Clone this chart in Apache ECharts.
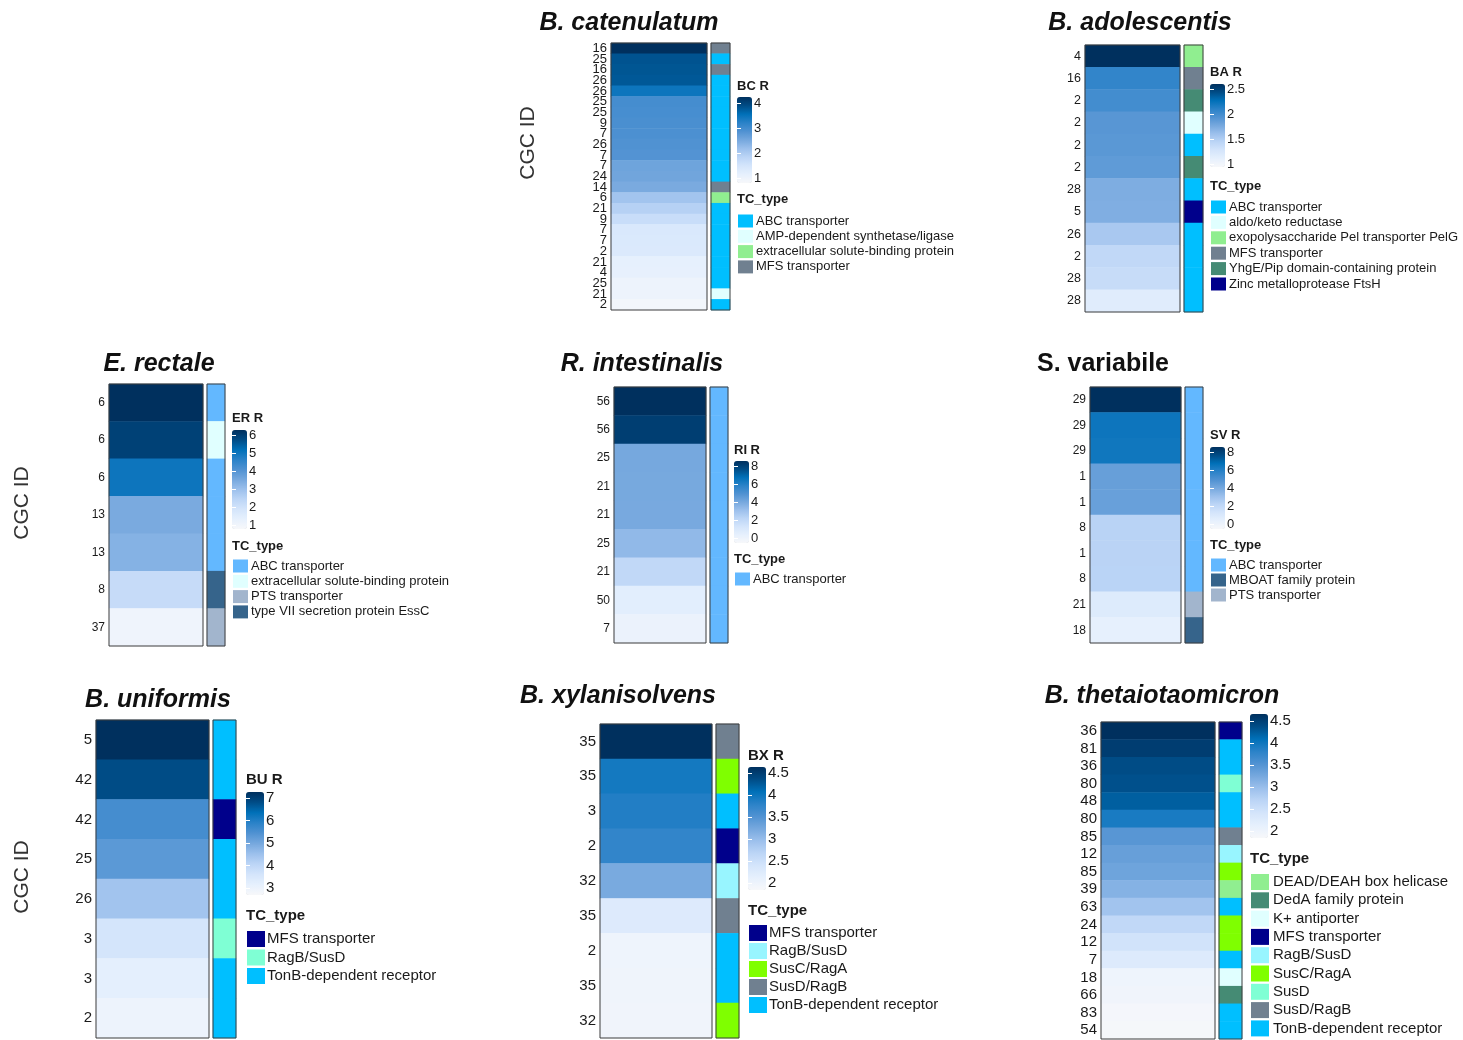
<!DOCTYPE html>
<html><head><meta charset="utf-8">
<script src="https://cdn.jsdelivr.net/npm/echarts@6/dist/echarts.min.js"></script>
<style>html,body{margin:0;padding:0;background:#fff}#c{width:1463px;height:1040px}</style>
</head><body><div id="c"></div>
<script>
// ================= DATA =================
// B. catenulatum
const bcRows = ['16','25','16','26','26','25','25','9','7','26','7','7','24','14','6','21','9','7','7','2','21','4','25','21','2'];
const bcValues = [4.0,3.64,3.62,3.6,3.31,2.89,2.87,2.85,2.83,2.8,2.78,2.56,2.54,2.47,2.14,1.96,1.75,1.51,1.5,1.49,1.3,1.29,1.18,1.17,1.08];
const bcTypes = ['MFS transporter','ABC transporter','MFS transporter','ABC transporter','ABC transporter','ABC transporter','ABC transporter','ABC transporter','ABC transporter','ABC transporter','ABC transporter','ABC transporter','ABC transporter','MFS transporter','extracellular solute-binding protein','ABC transporter','ABC transporter','ABC transporter','ABC transporter','ABC transporter','ABC transporter','ABC transporter','ABC transporter','AMP-dependent synthetase/ligase','ABC transporter'];
const bcLegend = ['ABC transporter','AMP-dependent synthetase/ligase','extracellular solute-binding protein','MFS transporter'];
const bcTicks = [1,2,3,4];

// B. adolescentis
const baRows = ['4','16','2','2','2','2','28','5','26','2','28','28'];
const baValues = [2.5,2.02,1.95,1.87,1.86,1.84,1.72,1.71,1.54,1.42,1.38,1.2];
const baTypes = ['exopolysaccharide Pel transporter PelG','MFS transporter','YhgE/Pip domain-containing protein','aldo/keto reductase','ABC transporter','YhgE/Pip domain-containing protein','ABC transporter','Zinc metalloprotease FtsH','ABC transporter','ABC transporter','ABC transporter','ABC transporter'];
const baLegend = ['ABC transporter','aldo/keto reductase','exopolysaccharide Pel transporter PelG','MFS transporter','YhgE/Pip domain-containing protein','Zinc metalloprotease FtsH'];
const baTicks = [1,1.5,2,2.5];

// E. rectale
const erRows = ['6','6','6','13','13','8','37'];
const erValues = [6.0,5.7,4.85,3.45,3.3,2.3,1.25];
const erTypes = ['ABC transporter','extracellular solute-binding protein','ABC transporter','ABC transporter','ABC transporter','type VII secretion protein EssC','PTS transporter'];
const erLegend = ['ABC transporter','extracellular solute-binding protein','PTS transporter','type VII secretion protein EssC'];
const erTicks = [1,2,3,4,5,6];

// R. intestinalis
const riRows = ['56','56','25','21','21','25','21','50','7'];
const riValues = [8,7.6,4.0,3.98,3.96,3.44,2.24,0.96,0.56];
const riTypes = ['ABC transporter','ABC transporter','ABC transporter','ABC transporter','ABC transporter','ABC transporter','ABC transporter','ABC transporter','ABC transporter'];
const riLegend = ['ABC transporter'];
const riTicks = [0,2,4,6,8];

// S. variabile
const svRows = ['29','29','29','1','1','8','1','8','21','18'];
const svValues = [8,6.16,6.1,4.32,4.3,2.48,2.46,2.44,1.2,0.8];
const svTypes = ['ABC transporter','ABC transporter','ABC transporter','ABC transporter','ABC transporter','ABC transporter','ABC transporter','ABC transporter','PTS transporter','MBOAT family protein'];
const svLegend = ['ABC transporter','MBOAT family protein','PTS transporter'];
const svTicks = [0,2,4,6,8];

// B. uniformis
const buRows = ['5','42','42','25','26','3','3','2'];
const buValues = [7,6.6,5.52,5.28,4.52,3.8,3.44,3.24];
const buTypes = ['TonB-dependent receptor','TonB-dependent receptor','MFS transporter','TonB-dependent receptor','TonB-dependent receptor','RagB/SusD','TonB-dependent receptor','TonB-dependent receptor'];
const buLegend = ['MFS transporter','RagB/SusD','TonB-dependent receptor'];
const buTicks = [3,4,5,6,7];

// B. xylanisolvens
const bxRows = ['35','35','3','2','32','35','2','35','32'];
const bxValues = [4.5,3.88,3.8,3.7,3.23,2.38,2.13,2.12,2.11];
const bxTypes = ['SusD/RagB','SusC/RagA','TonB-dependent receptor','MFS transporter','RagB/SusD','SusD/RagB','TonB-dependent receptor','TonB-dependent receptor','SusC/RagA'];
const bxLegend = ['MFS transporter','RagB/SusD','SusC/RagA','SusD/RagB','TonB-dependent receptor'];
const bxTicks = [2,2.5,3,3.5,4,4.5];

// B. thetaiotaomicron
const btRows = ['36','81','36','80','48','80','85','12','85','39','63','24','12','7','18','66','83','54'];
const btValues = [4.5,4.38,4.25,4.22,4.12,3.85,3.45,3.35,3.3,3.15,2.95,2.7,2.53,2.38,2.13,2.11,2.05,2.03];
const btTypes = ['MFS transporter','TonB-dependent receptor','TonB-dependent receptor','SusD','TonB-dependent receptor','TonB-dependent receptor','SusD/RagB','RagB/SusD','SusC/RagA','DEAD/DEAH box helicase','TonB-dependent receptor','SusC/RagA','SusC/RagA','TonB-dependent receptor','K+ antiporter','DedA family protein','TonB-dependent receptor','TonB-dependent receptor'];
const btLegend = ['DEAD/DEAH box helicase','DedA family protein','K+ antiporter','MFS transporter','RagB/SusD','SusC/RagA','SusD','SusD/RagB','TonB-dependent receptor'];
const btTicks = [2,2.5,3,3.5,4,4.5];

// ================= STYLE =================
const FONT = "'Liberation Sans', Arial, sans-serif";
const BLUES = ['#f7f8fa','#e6f0fd','#d4e5fb','#bcd5f6','#9cc0ec','#76a8de','#5092d2','#2a82c8','#0070b8','#004c86','#00305e'];
const COLORS = {
  bc: {'ABC transporter':'#00bfff','AMP-dependent synthetase/ligase':'#e0ffff','extracellular solute-binding protein':'#90ee90','MFS transporter':'#708090'},
  ba: {'ABC transporter':'#00bfff','aldo/keto reductase':'#e0ffff','exopolysaccharide Pel transporter PelG':'#90ee90','MFS transporter':'#708090','YhgE/Pip domain-containing protein':'#458b74','Zinc metalloprotease FtsH':'#00008b'},
  er: {'ABC transporter':'#63b8ff','extracellular solute-binding protein':'#e0ffff','PTS transporter':'#a2b5cd','type VII secretion protein EssC':'#36648b'},
  ri: {'ABC transporter':'#63b8ff'},
  sv: {'ABC transporter':'#63b8ff','MBOAT family protein':'#36648b','PTS transporter':'#a2b5cd'},
  bu: {'MFS transporter':'#00008b','RagB/SusD':'#7fffd4','TonB-dependent receptor':'#00bfff'},
  bx: {'MFS transporter':'#00008b','RagB/SusD':'#98f5ff','SusC/RagA':'#7fff00','SusD/RagB':'#708090','TonB-dependent receptor':'#00bfff'},
  bt: {'DEAD/DEAH box helicase':'#90ee90','DedA family protein':'#458b74','K+ antiporter':'#e0ffff','MFS transporter':'#00008b','RagB/SusD':'#98f5ff','SusC/RagA':'#7fff00','SusD':'#7fffd4','SusD/RagB':'#708090','TonB-dependent receptor':'#00bfff'}
};
// layout: grid [left, top, width, height], ann [left, width]
const LAYOUT = {
  bc: {grid:[611,43,96,267], ann:[711,19], lab:13, title:[629,21], tag:'BC R',
       leg:{x:737, tag:88, bar:[97,183], bw:15, axis:[103,178], tc:201, item0:221, pitch:15.3, iw:15, ih:13, tx:756, fs:13, tfs:13}},
  ba: {grid:[1085,45,95,267], ann:[1184,19], lab:12.5, title:[1140,21], tag:'BA R',
       leg:{x:1210, tag:74, bar:[84,167], bw:15, axis:[89,164], tc:188, item0:207, pitch:15.4, iw:15, ih:13, tx:1229, fs:13, tfs:13}},
  er: {grid:[109,384,94,262], ann:[207,18], lab:12, title:[159,362], tag:'ER R', yname:[22,503],
       leg:{x:232, tag:420, bar:[430,529], bw:15, axis:[435,525], tc:548, item0:566, pitch:15.3, iw:15, ih:13, tx:251, fs:13, tfs:13}},
  ri: {grid:[614,387,92,256], ann:[710,18], lab:12, title:[642,362], tag:'RI R',
       leg:{x:734, tag:452, bar:[461,543], bw:15, axis:[466,538], tc:561, item0:579, pitch:15.3, iw:15, ih:13, tx:753, fs:13, tfs:13}},
  sv: {grid:[1090,387,91,256], ann:[1185,18], lab:12, title:[1103,362], tag:'SV R', upright:true,
       leg:{x:1210, tag:437, bar:[447,529], bw:15, axis:[452,524], tc:547, item0:565, pitch:15, iw:15, ih:13, tx:1229, fs:13, tfs:13}},
  bu: {grid:[96,720,113,318], ann:[213,23], lab:15, title:[158,698], tag:'BU R', yname:[22,877],
       leg:{x:246, tag:781, bar:[792,895], bw:18, axis:[798,888], tc:917, item0:939, pitch:18.5, iw:18, ih:16, tx:267, fs:15, tfs:15}},
  bx: {grid:[600,724,112,314], ann:[716,23], lab:15, title:[618,694], tag:'BX R',
       leg:{x:748, tag:757, bar:[767,890], bw:18, axis:[773,883], tc:912, item0:933, pitch:18, iw:18, ih:16, tx:769, fs:15, tfs:15}},
  bt: {grid:[1101,722,114,317], ann:[1219,23], lab:15, title:[1162,694], tag:null,
       leg:{x:1250, tag:0, bar:[714,838], bw:18, axis:[721,831], tc:860, item0:882, pitch:18.3, iw:18, ih:16, tx:1273, fs:15, tfs:15}}
};

const panels = [
  {key:'bc', name:'B. catenulatum', rows:bcRows, values:bcValues, types:bcTypes, legend:bcLegend, ticks:bcTicks},
  {key:'ba', name:'B. adolescentis', rows:baRows, values:baValues, types:baTypes, legend:baLegend, ticks:baTicks},
  {key:'er', name:'E. rectale', rows:erRows, values:erValues, types:erTypes, legend:erLegend, ticks:erTicks},
  {key:'ri', name:'R. intestinalis', rows:riRows, values:riValues, types:riTypes, legend:riLegend, ticks:riTicks},
  {key:'sv', name:'S. variabile', rows:svRows, values:svValues, types:svTypes, legend:svLegend, ticks:svTicks},
  {key:'bu', name:'B. uniformis', rows:buRows, values:buValues, types:buTypes, legend:buLegend, ticks:buTicks},
  {key:'bx', name:'B. xylanisolvens', rows:bxRows, values:bxValues, types:bxTypes, legend:bxLegend, ticks:bxTicks},
  {key:'bt', name:'B. thetaiotaomicron', rows:btRows, values:btValues, types:btTypes, legend:btLegend, ticks:btTicks}
];

// ================= BUILD =================
const option = {animation:false, backgroundColor:'#ffffff', title:[], grid:[], xAxis:[], yAxis:[], series:[], visualMap:[], graphic:[]};
const frame = {show:true, borderColor:'#3c3c3c', borderWidth:1, backgroundColor:'transparent', z:5};

panels.forEach(p => {
  const L = LAYOUT[p.key], G = L.leg;
  const gi = option.grid.length;
  option.grid.push(Object.assign({left:L.grid[0], top:L.grid[1], width:L.grid[2], height:L.grid[3]}, frame));
  option.grid.push(Object.assign({left:L.ann[0], top:L.grid[1], width:L.ann[1], height:L.grid[3]}, frame));
  option.grid.push({left:G.x, top:G.axis[0], width:G.bw, height:G.axis[1]-G.axis[0], show:false});

  const xi = option.xAxis.length;
  [0,1].forEach(k => option.xAxis.push({gridIndex:gi+k, type:'category', data:['v'], show:false}));
  option.xAxis.push({gridIndex:gi+2, type:'value', show:false, min:0, max:1});

  const yi = option.yAxis.length;
  option.yAxis.push({gridIndex:gi, type:'category', data:p.rows, inverse:true,
    axisLine:{show:false}, axisTick:{show:false}, splitLine:{show:false},
    axisLabel:{interval:0, margin:4, fontSize:L.lab, color:'#1a1a1a', fontFamily:FONT}});
  option.yAxis.push({gridIndex:gi+1, type:'category', data:p.rows, inverse:true, show:false});
  const ymin = p.ticks[0], ymax = p.ticks[p.ticks.length-1], step = p.ticks[1]-p.ticks[0];
  option.yAxis.push({gridIndex:gi+2, type:'value', position:'right', min:ymin, max:ymax, interval:step, z:10,
    axisLine:{show:false}, splitLine:{show:false},
    axisTick:{show:true, inside:true, length:4, lineStyle:{color:'#ffffff', width:1}},
    axisLabel:{margin:2, fontSize:G.fs, color:'#1a1a1a', fontFamily:FONT, formatter:v => String(v)}});
  option.yAxis.push({gridIndex:gi+2, type:'value', position:'left', min:ymin, max:ymax, interval:step, z:10,
    axisLine:{show:false}, splitLine:{show:false}, axisLabel:{show:false},
    axisTick:{show:true, inside:true, length:4, lineStyle:{color:'#ffffff', width:1}}});

  const si = option.series.length;
  option.series.push({type:'heatmap', xAxisIndex:xi, yAxisIndex:yi,
    data:p.values.map((v,r)=>[0,r,v]), itemStyle:{borderWidth:0}, emphasis:{disabled:true}, silent:true});
  option.series.push({type:'heatmap', xAxisIndex:xi+1, yAxisIndex:yi+1,
    data:p.types.map((t,r)=>[0,r,p.legend.indexOf(t)]), itemStyle:{borderWidth:0}, emphasis:{disabled:true}, silent:true});

  option.visualMap.push({type:'continuous', seriesIndex:si, dimension:2, min:ymin, max:ymax,
    show:true, calculable:false, hoverLink:false, left:G.x, top:G.bar[0], itemWidth:G.bw, itemHeight:G.bar[1]-G.bar[0],
    padding:0, inRange:{color:BLUES}});
  option.visualMap.push({type:'piecewise', seriesIndex:si+1, dimension:2, show:true, orient:'vertical', align:'left', inverse:true,
    left:G.x+1, top:G.item0-G.ih/2, itemWidth:G.iw, itemHeight:G.ih, itemGap:G.pitch-G.ih, textGap:G.tx-(G.x+1)-G.iw,
    itemSymbol:'rect', padding:0, hoverLink:false, selectedMode:false,
    textStyle:{fontSize:G.fs, color:'#1a1a1a', fontFamily:FONT},
    pieces:p.legend.map((t,k)=>({value:k, label:t, color:COLORS[p.key][t]}))});

  option.title.push({text:p.name, left:L.title[0], top:L.title[1]-10, textAlign:'center', padding:0,
    textStyle:{fontSize:25, fontWeight:'bold', fontStyle:L.upright?'normal':'italic', color:'#111', fontFamily:FONT}});
  if (L.tag) option.title.push({text:L.tag, left:G.x, top:G.tag-G.tfs*0.6, padding:0,
    textStyle:{fontSize:G.tfs, fontWeight:'bold', color:'#1a1a1a', fontFamily:FONT}});
  option.title.push({text:'TC_type', left:G.x, top:G.tc-G.tfs*0.6, padding:0,
    textStyle:{fontSize:G.tfs, fontWeight:'bold', color:'#1a1a1a', fontFamily:FONT}});
  if (L.yname) option.graphic.push({type:'text', x:L.yname[0], y:L.yname[1], rotation:Math.PI/2,
    style:{text:'CGC ID', font:'21px '+FONT, fill:'#333', align:'center', verticalAlign:'middle', textAlign:'center', textVerticalAlign:'middle'}});
});
option.graphic.push({type:'text', x:528, y:143, rotation:Math.PI/2,
  style:{text:'CGC ID', font:'21px '+FONT, fill:'#333', align:'center', verticalAlign:'middle', textAlign:'center', textVerticalAlign:'middle'}});

const chart = echarts.init(document.getElementById('c'), null, {renderer:'canvas'});
chart.setOption(option);
</script></body></html>
